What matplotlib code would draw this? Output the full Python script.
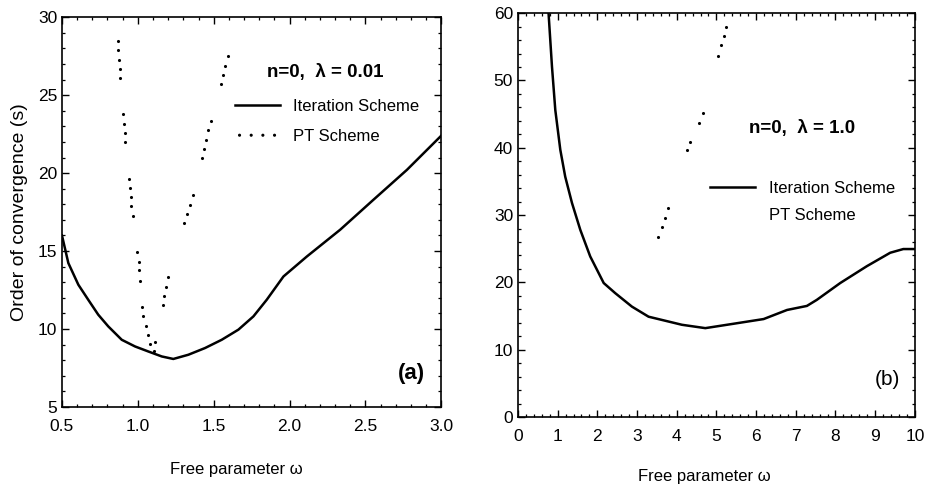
import matplotlib
matplotlib.use('Agg')
import matplotlib.pyplot as plt
from matplotlib.ticker import MultipleLocator

plt.rcParams['font.family'] = ['Liberation Sans', 'DejaVu Sans']

# panel (a): n=0, lambda=0.01
w_iter_a = [0.5, 0.542, 0.608, 0.673, 0.739, 0.805, 0.894, 0.982, 1.069, 1.158, 1.234,
            1.333, 1.443, 1.553, 1.663, 1.762, 1.85, 1.96, 2.114, 2.334, 2.553, 2.774, 3.0]
s_iter_a = [16.0, 14.23, 12.84, 11.88, 10.92, 10.17, 9.31, 8.88, 8.56, 8.24, 8.08,
            8.35, 8.78, 9.31, 9.96, 10.81, 11.88, 13.37, 14.65, 16.37, 18.29, 20.21, 22.4]
w_pt_a = [0.867, 0.871, 0.876, 0.88, 0.885,
          0.904, 0.907, 0.914, 0.918,
          0.94, 0.947, 0.953, 0.955, 0.966,
          0.995, 1.006, 1.01, 1.015,
          1.03, 1.036, 1.052, 1.065, 1.078, 1.107, 1.113,
          1.164, 1.175, 1.186, 1.201,
          1.307, 1.327, 1.344, 1.365,
          1.423, 1.436, 1.448, 1.463, 1.483,
          1.549, 1.562, 1.573, 1.593]
s_pt_a = [28.5, 27.88, 27.28, 26.7, 26.1,
          23.78, 23.18, 22.58, 21.99,
          19.65, 19.04, 18.46, 17.86, 17.28,
          14.94, 14.33, 13.76, 13.11,
          11.41, 10.81, 10.21, 9.63, 9.04, 8.56, 9.19,
          11.54, 12.14, 12.71, 13.31,
          16.79, 17.39, 17.97, 18.6,
          20.96, 21.54, 22.13, 22.76, 23.35,
          25.7, 26.3, 26.9, 27.52]

# panel (b): n=0, lambda=1.0
w_iter_b = [0.77, 0.856, 0.94, 1.066, 1.19, 1.36, 1.57, 1.82, 2.16, 2.45, 2.87,
            3.29, 4.13, 4.72, 5.43, 6.19, 6.78, 7.28, 7.53, 8.12, 8.79,
            9.38, 9.71, 10.0]
s_iter_b = [60.0, 52.07, 45.6, 39.7, 35.7, 31.8, 27.8, 23.85, 19.9, 18.4, 16.4,
            14.9, 13.7, 13.2, 13.85, 14.55, 15.9, 16.5, 17.4, 19.9, 22.4,
            24.4, 24.95, 24.95]
w_pt_b = [3.54, 3.64, 3.71, 3.79, 4.25, 4.34, 4.56, 4.66, 5.05, 5.11, 5.19, 5.24]
s_pt_b = [26.7, 28.2, 29.5, 31.0, 39.6, 40.9, 43.7, 45.2, 53.7, 55.2, 56.6, 58.0]

xticks_a = [0.5, 1.0, 1.5, 2.0, 2.5, 3.0]
xticklabels_a = ['0.5', '1.0', '1.5', '2.0', '2.5', '3.0']


def style_axes(ax):
    for sp in ax.spines.values():
        sp.set_linewidth(1.2)
    ax.tick_params(which='both', direction='in', top=True, right=True, labelsize=12.5)
    ax.tick_params(which='major', length=5, width=1)
    ax.tick_params(which='minor', length=2.5, width=0.9)
    ax.tick_params(axis='x', which='major', pad=9)


fig = plt.figure(figsize=(9.25, 4.86), dpi=100)
ax1 = fig.add_axes([0.067, 0.1626, 0.410, 0.802])
ax2 = fig.add_axes([0.560, 0.142, 0.429, 0.831])

# (a)
ax1.plot(w_iter_a, s_iter_a, color='black', lw=1.8, solid_joinstyle='round',
         label='Iteration Scheme')
ax1.scatter(w_pt_a, s_pt_a, s=5, color='black', lw=0, label='PT Scheme')
ax1.set_xlim(0.5, 3.0)
ax1.set_ylim(5, 30)
ax1.set_xticks(xticks_a)
ax1.set_xticklabels(xticklabels_a)
ax1.xaxis.set_minor_locator(MultipleLocator(0.1))
ax1.yaxis.set_major_locator(MultipleLocator(5))
ax1.yaxis.set_minor_locator(MultipleLocator(1))
style_axes(ax1)
ax1.set_ylabel('Order of convergence (s)', fontsize=14)
ax1.yaxis.set_label_coords(-0.09, 0.5)
ax1.set_xlabel('Free parameter \u03c9', fontsize=12)
ax1.xaxis.set_label_coords(0.46, -0.14)
ax1.text(0.694, 0.859, 'n=0,  \u03bb = 0.01', transform=ax1.transAxes,
         ha='center', va='center', fontsize=13.5, fontweight='bold')
ax1.text(0.921, 0.087, '(a)', transform=ax1.transAxes,
         ha='center', va='center', fontsize=16, fontweight='bold')
ax1.legend(loc='upper left', bbox_to_anchor=(0.455, 0.79), frameon=False,
           fontsize=12, handlelength=2.7, handletextpad=0.8, labelspacing=0.9,
           borderpad=0, borderaxespad=0, scatterpoints=4, scatteryoffsets=[0.5])

# (b)
ax2.plot(w_iter_b, s_iter_b, color='black', lw=1.8, solid_joinstyle='round',
         label='Iteration Scheme')
ax2.scatter(w_pt_b, s_pt_b, s=5, color='black', lw=0, label='PT Scheme')
ax2.set_xlim(0, 10)
ax2.set_ylim(0, 60)
ax2.xaxis.set_major_locator(MultipleLocator(1))
ax2.xaxis.set_minor_locator(MultipleLocator(0.2))
ax2.yaxis.set_major_locator(MultipleLocator(10))
ax2.yaxis.set_minor_locator(MultipleLocator(2))
style_axes(ax2)
ax2.set_xlabel('Free parameter \u03c9', fontsize=12)
ax2.xaxis.set_label_coords(0.47, -0.13)
ax2.text(0.715, 0.715, 'n=0,  \u03bb = 1.0', transform=ax2.transAxes,
         ha='center', va='center', fontsize=13.5, fontweight='bold')
ax2.text(0.93, 0.092, '(b)', transform=ax2.transAxes,
         ha='center', va='center', fontsize=15)
leg = ax2.legend(loc='upper left', bbox_to_anchor=(0.485, 0.585), frameon=False,
                 fontsize=12, handlelength=2.7, handletextpad=0.8, labelspacing=0.75,
                 borderpad=0, borderaxespad=0, scatterpoints=4, scatteryoffsets=[0.5])
leg.legend_handles[1].set_visible(False)

fig.savefig('out.png', dpi=100)
